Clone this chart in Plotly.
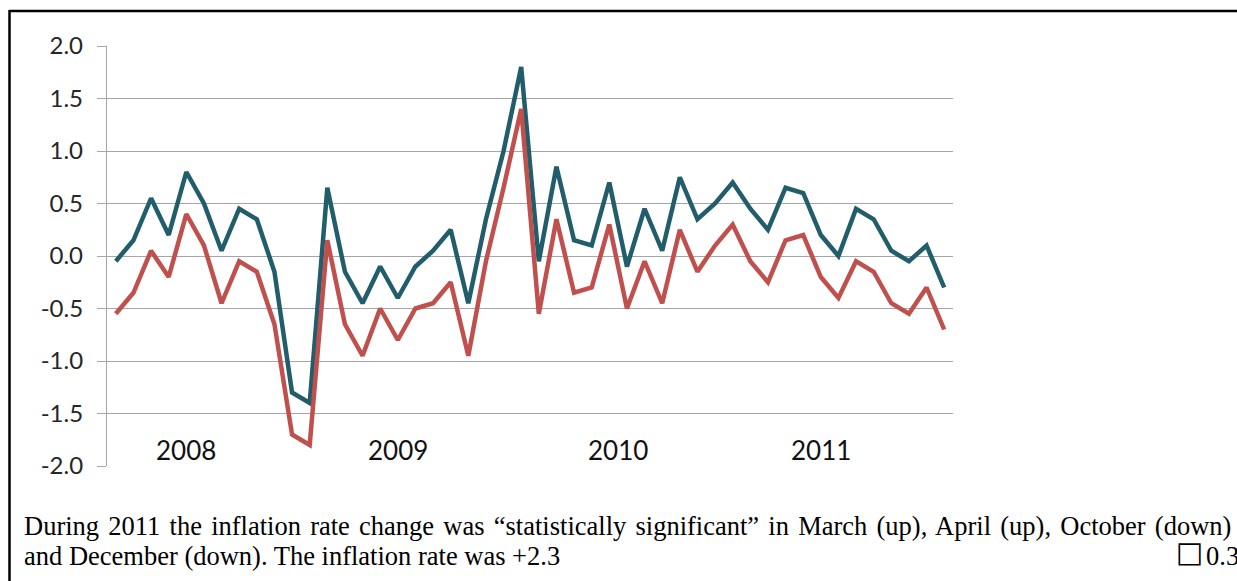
import plotly.graph_objects as go

# ---- data ----
months = [f"{y}-{m:02d}" for y in (2008, 2009, 2010, 2011) for m in range(1, 13)]
series_teal = [-0.05, 0.15, 0.55, 0.2, 0.8, 0.5, 0.05, 0.45, 0.35, -0.15, -1.3, -1.4,
               0.65, -0.15, -0.45, -0.1, -0.4, -0.1, 0.05, 0.25, -0.45, 0.35, 1.0, 1.8,
               -0.05, 0.85, 0.15, 0.1, 0.7, -0.1, 0.45, 0.05, 0.75, 0.35, 0.5, 0.7,
               0.45, 0.25, 0.65, 0.6, 0.2, 0.0, 0.45, 0.35, 0.05, -0.05, 0.1, -0.3]
series_red = [-0.55, -0.35, 0.05, -0.2, 0.4, 0.1, -0.45, -0.05, -0.15, -0.65, -1.7, -1.8,
              0.15, -0.65, -0.95, -0.5, -0.8, -0.5, -0.45, -0.25, -0.95, -0.05, 0.65, 1.4,
              -0.55, 0.35, -0.35, -0.3, 0.3, -0.5, -0.05, -0.45, 0.25, -0.15, 0.1, 0.3,
              -0.05, -0.25, 0.15, 0.2, -0.2, -0.4, -0.05, -0.15, -0.45, -0.55, -0.3, -0.7]
tick_vals = [2.0, 1.5, 1.0, 0.5, 0.0, -0.5, -1.0, -1.5, -2.0]
tick_text = ["2.0", "1.5", "1.0", "0.5", "0.0", "-0.5", "-1.0", "-1.5", "-2.0"]
year_labels = ["2008", "2009", "2010", "2011"]
year_label_pos = [4.0, 16.0, 28.5, 40.0]
caption_line1 = "During 2011 the inflation rate change was \u201cstatistically significant\u201d in March (up), April (up), October (down)"
caption_line2 = "and December (down). The inflation rate was +2.3"
caption_box = "\u25a1"
caption_right = "0.3"

W, H = 1237, 581
# plot area in page pixels
L, R, T, B = 107, 953, 46, 466


def px(x):  # page px -> paper x
    return (x - L) / (R - L)


def py(y):  # page px -> paper y
    return (B - y) / (B - T)


fig = go.Figure()
xs = list(range(len(months)))
fig.add_trace(go.Scatter(x=xs, y=series_teal, mode="lines", name="teal",
                         line=dict(color="#215D6B", width=4.5)))
fig.add_trace(go.Scatter(x=xs, y=series_red, mode="lines", name="red",
                         line=dict(color="#C0504D", width=4.5)))

annotations = []
for lab, pos in zip(year_labels, year_label_pos):
    annotations.append(dict(x=pos, y=-1.85, xref="x", yref="y", text=lab, showarrow=False,
                            xanchor="center", yanchor="middle",
                            font=dict(family="Lato", size=26, color="#111111")))

cap_font = dict(family="Liberation Serif", size=26.5, color="#000000")
annotations.append(dict(x=px(22), y=py(526), xref="paper", yref="paper",
                        text='<span style="word-spacing:2.6px">' + caption_line1 + '</span>',
                        showarrow=False, xanchor="left", yanchor="middle", font=cap_font))
annotations.append(dict(x=px(22), y=py(556), xref="paper", yref="paper", text=caption_line2,
                        showarrow=False, xanchor="left", yanchor="middle", font=cap_font))
annotations.append(dict(x=px(1189), y=py(552), xref="paper", yref="paper", text=caption_box,
                        showarrow=False, xanchor="center", yanchor="middle",
                        font=dict(family="DejaVu Sans", size=29, color="#000000")))
annotations.append(dict(x=px(1204), y=py(556), xref="paper", yref="paper", text=caption_right,
                        showarrow=False, xanchor="left", yanchor="middle", font=cap_font))

shapes = [
    dict(type="line", xref="paper", yref="paper", x0=px(9.5), x1=px(1300), y0=py(11), y1=py(11),
         line=dict(color="#000000", width=2.5)),
    dict(type="line", xref="paper", yref="paper", x0=px(9.5), x1=px(9.5), y0=py(10), y1=py(620),
         line=dict(color="#000000", width=2.5)),
]

fig.update_layout(
    width=W, height=H,
    margin=dict(l=L, r=W - R, t=T, b=H - B, pad=0),
    paper_bgcolor="white", plot_bgcolor="white",
    showlegend=False,
    annotations=annotations,
    shapes=shapes,
    xaxis=dict(range=[-0.5, len(months) - 0.5], showgrid=False, zeroline=False,
               showticklabels=False, ticks="", showline=False, fixedrange=True),
    yaxis=dict(range=[-2.0, 2.0], tickvals=tick_vals, ticktext=tick_text,
               showgrid=True, gridcolor="#A6A6A6", gridwidth=1.3,
               zeroline=False, showline=True, linecolor="#A6A6A6", linewidth=1.3,
               ticks="outside", ticklen=9, tickcolor="#A6A6A6", tickwidth=1.3,
               ticklabelstandoff=9,
               tickfont=dict(family="Lato", size=24, color="#262626"), fixedrange=True),
)

fig.write_html("out.html", config={"displayModeBar": False},
               post_script="document.body.style.margin='0';document.body.style.overflow='hidden';")
